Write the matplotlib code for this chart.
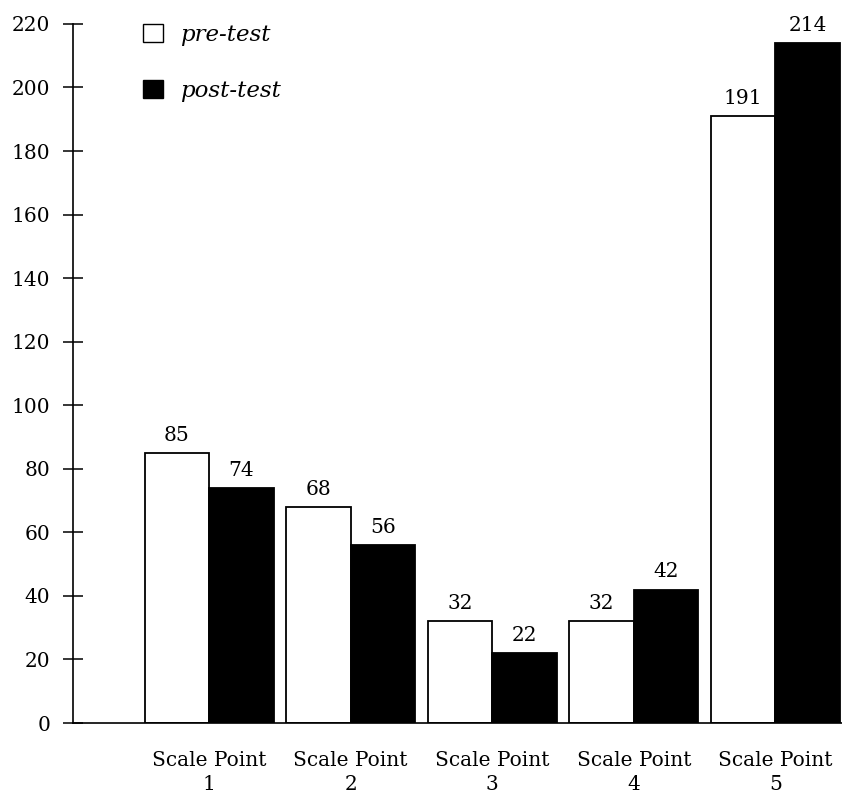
import matplotlib
matplotlib.use("Agg")
import matplotlib.pyplot as plt
from matplotlib.patches import Patch
import numpy as np

categories = ["Scale Point\n1", "Scale Point\n2", "Scale Point\n3", "Scale Point\n4", "Scale Point\n5"]
pre_test = [85, 68, 32, 32, 191]
post_test = [74, 56, 22, 42, 214]
yticks = [0, 20, 40, 60, 80, 100, 120, 140, 160, 180, 200, 220]

plt.rcParams['font.family'] = ['DejaVu Serif']

fig = plt.figure(figsize=(8.42, 7.97), dpi=100)
ax = fig.add_axes([0.087, 0.0928, 0.913, 0.8772])

x = np.arange(len(categories))
w = 0.455
b1 = ax.bar(x - w/2, pre_test, width=w, color='white', edgecolor='black', linewidth=1.3)
b2 = ax.bar(x + w/2, post_test, width=w, color='black', edgecolor='black', linewidth=1.3)

for rects, vals in ((b1, pre_test), (b2, post_test)):
    for r, v in zip(rects, vals):
        ax.annotate(str(v), (r.get_x() + r.get_width()/2, r.get_height()),
                    xytext=(0, 6), textcoords='offset points',
                    ha='center', va='bottom', fontsize=14.5)

ax.set_xlim(-0.96, 4.47)
ax.set_ylim(0, 220)
ax.set_yticks(yticks)
ax.set_xticks(x)
ax.set_xticklabels(categories, fontsize=14.5, linespacing=1.35)
ax.tick_params(axis='x', length=0, pad=20)
ax.tick_params(axis='y', direction='inout', length=15, width=1.1, labelsize=14.5, pad=9)
for s in ('top', 'right'):
    ax.spines[s].set_visible(False)
for s in ('left', 'bottom'):
    ax.spines[s].set_linewidth(1.2)

handles = [Patch(facecolor='white', edgecolor='black', linewidth=1.0),
           Patch(facecolor='black', edgecolor='black')]
leg = ax.legend(handles, ['pre-test', 'post-test'], loc='upper left',
                bbox_to_anchor=(0.064, 1.03), frameon=False,
                prop={'style': 'italic', 'size': 16.5},
                handlelength=0.85, handleheight=0.85, labelspacing=1.5,
                handletextpad=0.75)

fig.savefig("out.png", dpi=100)
